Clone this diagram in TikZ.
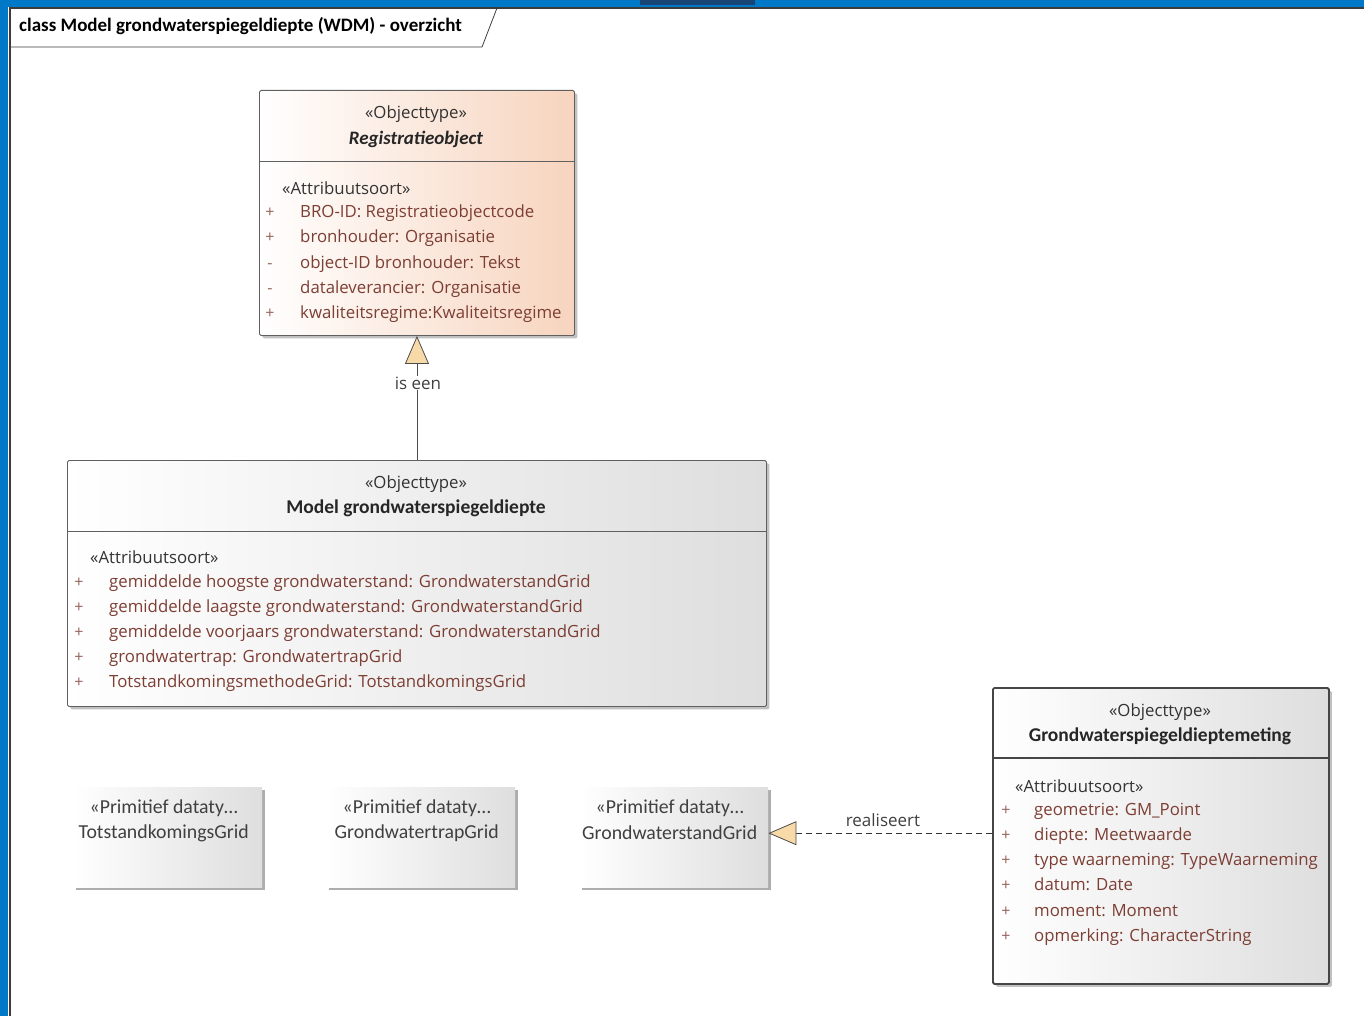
\documentclass[tikz,border=0pt]{standalone}
\usepackage{fontspec}
\setmainfont{Carlito}
\newfontfamily\segoe{Open Sans}
\usetikzlibrary{arrows.meta,positioning,shadows}
\definecolor{eablue}{RGB}{0,120,200}
\definecolor{eanavy}{RGB}{24,68,118}
\definecolor{framegray}{RGB}{60,60,60}
\definecolor{peach}{RGB}{247,212,190}
\definecolor{boxgray}{RGB}{222,222,222}
\definecolor{attrcol}{RGB}{125,62,52}
\definecolor{trifill}{RGB}{247,218,168}
\tikzset{
  classbox/.style={draw=gray!75!black, line width=0.9pt, rounded corners=1.5pt,
    shading=axis, shading angle=90, left color=white, right color=boxgray,
    anchor=north west, inner sep=0pt,
    drop shadow={shadow xshift=3pt, shadow yshift=-3pt, fill=gray!70, opacity=.7}},
  primbox/.style={shading=axis, left color=white, right color=boxgray,
    anchor=north west, inner sep=0pt,
    drop shadow={shadow xshift=3pt, shadow yshift=-3pt, fill=gray!80, opacity=.8}},
  stereo/.style={font=\segoe\fontsize{16.8}{19}\selectfont, text=black!80, inner sep=1pt},
  clname/.style={font=\fontsize{19.5}{21}\selectfont\bfseries, text=black!85, inner sep=1pt},
  attr/.style={font=\segoe\fontsize{16.8}{19}\selectfont, text=attrcol, anchor=west,
    inner sep=0pt, text height=12pt, text depth=4pt},
  sign/.style={font=\segoe\fontsize{16}{19}\selectfont, text=attrcol!80, anchor=center,
    inner sep=0pt, text height=12pt, text depth=4pt},
  primtext/.style={font=\fontsize{19.8}{21}\selectfont, text=black!75, inner sep=1pt},
  conlabel/.style={font=\segoe\fontsize{17}{19}\selectfont, text=black!75, fill=white, inner sep=1pt},
  realtip/.style={-{Triangle[length=28pt,width=24pt,fill=trifill]}}
}

\begin{document}
\begin{tikzpicture}[x=1pt,y=-1pt]
  \useasboundingbox (0,0) rectangle (1364,1016);
  % window frame
  \fill[eablue] (0,0) rectangle (1364,7);
  \fill[eablue] (0,0) rectangle (8,1016);
  \fill[eanavy] (640,0) rectangle (755,5);
  \draw[framegray, line width=2pt] (9.5,1016) -- (9.5,8) -- (1364,8);
  \draw[framegray, line width=0.8pt] (10,47) -- (482,47) -- (497,8);
  \node[anchor=west, font=\fontsize{19}{21}\selectfont\bfseries, inner sep=0pt] (title) at (19,26)
    {class Model grondwaterspiegeldiepte (WDM) - overzicht};

  % Registratieobject
  \node[classbox, right color=peach, minimum width=315, minimum height=245] (reg) at (259,90) {};
  \draw[gray!75!black, line width=0.9pt] (reg.west |- 0,161) -- (reg.east |- 0,161);
  \node[stereo] (regStereo) at (416,114) {«Objecttype»};
  \node[clname, font=\fontsize{19}{21}\selectfont\bfseries\itshape] (regName) at (416,139) {Registratieobject};
  \node[stereo, anchor=west] (regAttrHead) at (281,188) {«Attribuutsoort»};
  \foreach \s/\t [count=\i] in {+/BRO-ID: Registratieobjectcode, +/bronhouder: Organisatie,
      -/object-ID bronhouder: Tekst, -/dataleverancier: Organisatie,
      +/kwaliteitsregime:Kwaliteitsregime} {
    \node[sign] (regSign\i) at (270,189+25*\i) {\s};
    \node[attr] (regAttr\i) at (300,189+25*\i) {\t};
  }

  % Model grondwaterspiegeldiepte
  \node[classbox, minimum width=699, minimum height=246] (model) at (67,460) {};
  \draw[gray!75!black, line width=0.9pt] (model.west |- 0,531) -- (model.east |- 0,531);
  \node[stereo] (modelStereo) at (416,484) {«Objecttype»};
  \node[clname] (modelName) at (416,508) {Model grondwaterspiegeldiepte};
  \node[stereo, anchor=west] (modelAttrHead) at (89,557) {«Attribuutsoort»};
  \foreach \t [count=\i] in {gemiddelde hoogste grondwaterstand: GrondwaterstandGrid,
      gemiddelde laagste grondwaterstand: GrondwaterstandGrid,
      gemiddelde voorjaars grondwaterstand: GrondwaterstandGrid,
      grondwatertrap: GrondwatertrapGrid,
      TotstandkomingsmethodeGrid: TotstandkomingsGrid} {
    \node[sign] (modelSign\i) at (79,558+25*\i) {+};
    \node[attr] (modelAttr\i) at (109,558+25*\i) {\t};
  }

  % primitieve datatypen
  \foreach \n/\x/\t in {komGrid/73/TotstandkomingsGrid, trapGrid/326/GrondwatertrapGrid,
      standGrid/579/GrondwaterstandGrid} {
    \node[primbox, minimum width=189, minimum height=100] (\n) at (\x,787) {};
    \node[primtext] (\n Stereo) at ([xshift=-4, yshift=-21]\n.north) {«Primitief dataty…};
    \node[primtext] (\n Name) at ([xshift=-4, yshift=-46]\n.north) {\t};
  }

  % Grondwaterspiegeldieptemeting
  \node[classbox, draw=gray!55!black, line width=1.8pt, minimum width=336, minimum height=296] (meting) at (992,687) {};
  \draw[gray!55!black, line width=1.8pt] (meting.west |- 0,758) -- (meting.east |- 0,758);
  \node[stereo] (metingStereo) at (1160,712) {«Objecttype»};
  \node[clname] (metingName) at (1160,736) {Grondwaterspiegeldieptemeting};
  \node[stereo, anchor=west] (metingAttrHead) at (1014,786) {«Attribuutsoort»};
  \foreach \t [count=\i] in {geometrie: GM\_Point, diepte: Meetwaarde,
      type waarneming: TypeWaarneming, datum: Date, moment: Moment,
      opmerking: CharacterString} {
    \node[sign] (metingSign\i) at (1006,786+25.2*\i) {+};
    \node[attr] (metingAttr\i) at (1034,786+25.2*\i) {\t};
  }

  % relaties
  \draw[line width=0.8pt, realtip, draw=gray!60!black] (model.north) -- (reg.south);
  \node[conlabel] (isEen) at (418,383) {is een};
  \draw[gray!40!black, line width=0.8pt, dashed, dash pattern=on 6pt off 4pt] ([yshift=4]meting.west |- standGrid.east) -- ([xshift=28, yshift=4]standGrid.east);
  \draw[gray!60!black, line width=0.8pt, realtip] ([xshift=28, yshift=4]standGrid.east) -- ([yshift=4]standGrid.east);
  \node[conlabel] (realiseert) at (883,820) {realiseert};
\end{tikzpicture}
\end{document}
